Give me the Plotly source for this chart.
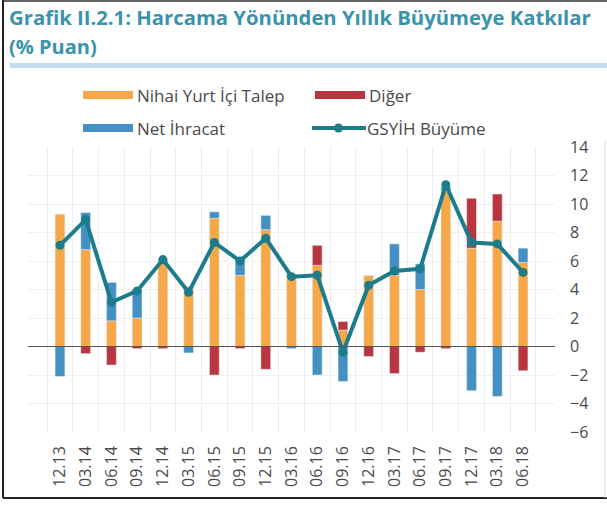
import plotly.graph_objects as go

categories = ["12.13", "03.14", "06.14", "09.14", "12.14", "03.15", "06.15", "09.15", "12.15",
              "03.16", "06.16", "09.16", "12.16", "03.17", "06.17", "09.17", "12.17", "03.18", "06.18"]
nihai_yurt_ici_talep = [9.3, 6.8, 1.8, 2.0, 6.0, 4.2, 9.0, 5.0, 8.2, 4.9, 5.7, 1.15, 5.0, 5.0, 4.0, 10.9, 6.9, 8.8, 5.9]
net_ihracat = [-2.1, 2.6, 2.7, 2.0, 0.1, -0.45, 0.45, 1.1, 1.0, -0.15, -2.0, -2.45, 0.0, 2.2, 1.8, 0.3, -3.1, -3.5, 1.0]
diger = [0.0, -0.5, -1.3, -0.15, -0.15, 0.0, -2.0, -0.15, -1.6, 0.15, 1.4, 0.6, -0.7, -1.9, -0.4, -0.15, 3.5, 1.9, -1.7]
gsyih_buyume = [7.1, 8.9, 3.1, 3.9, 6.1, 3.8, 7.3, 6.0, 7.6, 4.9, 5.0, -0.4, 4.3, 5.3, 5.45, 11.35, 7.3, 7.2, 5.2]
y_ticks = [-6, -4, -2, 0, 2, 4, 6, 8, 10, 12, 14]

C_OR = "#F4A847"
C_BL = "#4590C2"
C_RD = "#B8363F"
C_LN = "#1C7C8C"
TXT = "#4A4A4A"
FONT = "Open Sans"

W, H = 607, 506
L, R, T, B = 28, 52, 147, 74
pw, ph = W - L - R, H - T - B

def px(x):
    return (x - L) / pw

def py(y):
    return (H - B - y) / ph

fig = go.Figure()
fig.add_bar(x=categories, y=nihai_yurt_ici_talep, name="Nihai Yurt İçi Talep", marker_color=C_OR, showlegend=False)
fig.add_bar(x=categories, y=net_ihracat, name="Net İhracat", marker_color=C_BL, showlegend=False)
fig.add_bar(x=categories, y=diger, name="Diğer", marker_color=C_RD, showlegend=False)
fig.add_scatter(x=categories, y=gsyih_buyume, name="GSYİH Büyüme", mode="lines+markers",
                line=dict(color=C_LN, width=4), marker=dict(color=C_LN, size=9), showlegend=False)

shapes = []
annotations = []

# frame
shapes.append(dict(type="line", xref="paper", yref="paper", x0=px(3), x1=px(3), y0=py(0), y1=py(498),
                   line=dict(color="#222222", width=2)))
shapes.append(dict(type="line", xref="paper", yref="paper", x0=px(3), x1=px(607), y0=py(498), y1=py(498),
                   line=dict(color="#222222", width=2)))
shapes.append(dict(type="line", xref="paper", yref="paper", x0=px(3), x1=px(607), y0=py(1), y1=py(1),
                   line=dict(color="#333333", width=1.5)))
shapes.append(dict(type="line", xref="paper", yref="paper", x0=px(605), x1=px(605), y0=py(140), y1=py(498),
                   line=dict(color="#DDDDDD", width=1)))
# light blue band under title
shapes.append(dict(type="rect", xref="paper", yref="paper", x0=px(10), x1=px(607), y0=py(63), y1=py(68),
                   line=dict(width=0), fillcolor="#C5DCEF"))

# zero line
shapes.append(dict(type="line", xref="paper", yref="y", x0=0, x1=1, y0=0, y1=0,
                   line=dict(color="#555555", width=1.2), layer="above"))

# title
annotations.append(dict(text="<b>Grafik II.2.1: Harcama Yönünden Yıllık Büyümeye Katkılar</b>",
                        xref="paper", yref="paper", x=px(7), y=py(17), xanchor="left", yanchor="middle",
                        showarrow=False, font=dict(family=FONT, size=20.3, color="#3A93AA")))
annotations.append(dict(text="<b>(% Puan)</b>",
                        xref="paper", yref="paper", x=px(7), y=py(46), xanchor="left", yanchor="middle",
                        showarrow=False, font=dict(family=FONT, size=20, color="#3A93AA")))

# legend (manual)
def swatch(x0, x1, yc, color):
    shapes.append(dict(type="rect", xref="paper", yref="paper", x0=px(x0), x1=px(x1),
                       y0=py(yc + 4), y1=py(yc - 4), line=dict(width=0), fillcolor=color))

def label(x, yc, text):
    annotations.append(dict(text=text, xref="paper", yref="paper", x=px(x), y=py(yc),
                            xanchor="left", yanchor="middle", showarrow=False,
                            font=dict(family=FONT, size=17, color=TXT)))

swatch(83, 133, 95, C_OR)
label(135, 95, "Nihai Yurt İçi Talep")
swatch(315, 365, 95, C_RD)
label(367, 95, "Diğer")
swatch(83, 133, 128, C_BL)
label(135, 128, "Net İhracat")
shapes.append(dict(type="line", xref="paper", yref="paper", x0=px(312), x1=px(366), y0=py(128), y1=py(128),
                   line=dict(color=C_LN, width=4)))
shapes.append(dict(type="circle", xref="paper", yref="paper", x0=px(334), x1=px(343), y0=py(123.5), y1=py(132.5),
                   line=dict(width=0), fillcolor=C_LN))
label(365, 128, "GSYİH Büyüme")

fig.update_layout(
    width=W, height=H,
    margin=dict(l=L, r=R, t=T, b=B, autoexpand=False),
    paper_bgcolor="white", plot_bgcolor="white",
    barmode="relative", bargap=0.62,
    shapes=shapes, annotations=annotations,
    font=dict(family=FONT, color=TXT),
    xaxis=dict(type="category", tickangle=-90, tickson="boundaries", showgrid=True,
               gridcolor="#EDEDED", gridwidth=1, ticks="", showline=False, zeroline=False,
               tickfont=dict(family=FONT, size=16, color=TXT), ticklabelstandoff=10),
    yaxis=dict(side="right", range=[-6, 14], tickvals=y_ticks, showgrid=True, gridcolor="#F0F0F0",
               zeroline=False, showline=False, ticks="", ticklabelstandoff=14,
               tickfont=dict(family=FONT, size=16, color=TXT)),
)

fig.write_html("out.html", config={"displayModeBar": False},
               post_script="document.body.style.margin='0';document.body.style.overflow='hidden';")
